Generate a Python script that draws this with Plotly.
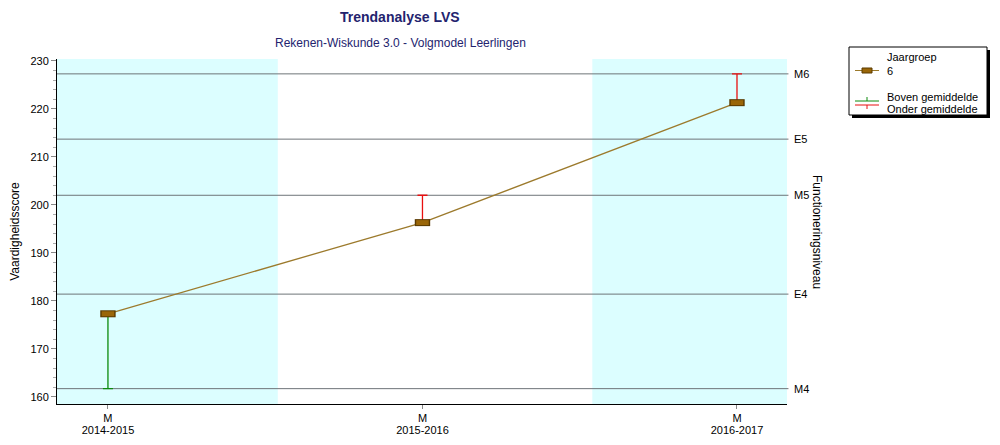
import plotly.graph_objects as go

# ---- data ----
years = ["2014-2015", "2015-2016", "2016-2017"]
period_labels = ["M", "M", "M"]
scores = [177.3, 196.3, 221.3]
err_up = [0.0, 5.7, 6.0]      # Onder gemiddelde (red)
err_down = [15.6, 0.0, 0.0]   # Boven gemiddelde (green)
level_names = ["M4", "E4", "M5", "E5", "M6"]
level_values = [161.7, 181.4, 202.0, 213.7, 227.3]
y_ticks = [160, 170, 180, 190, 200, 210, 220, 230]

W, H = 1000, 445
L, R, T, B = 57, 787, 59, 404
FONT = "Liberation Sans, Arial, sans-serif"
NAVY = "#23236e"
LINE_C = "#9c7a2c"
MARK_C = "#9a6608"
MARK_EDGE = "#5a3a00"
GREEN = "#0c8a0c"
RED = "#e81010"
XR = [-0.162, 2.159]
YR = [158.5, 230.4]

def px(x):
    return (x - L) / (R - L)

def py(y):
    return (B - y) / (B - T)

xs = list(range(len(years)))
fig = go.Figure()

# error bars (only where present)
dn = [i for i, e in enumerate(err_down) if e > 0]
up = [i for i, e in enumerate(err_up) if e > 0]
fig.add_trace(go.Scatter(
    x=[xs[i] for i in dn], y=[scores[i] for i in dn], mode="markers",
    marker=dict(size=1, color="rgba(0,0,0,0)"),
    error_y=dict(type="data", symmetric=False, array=[0]*len(dn),
                 arrayminus=[err_down[i] for i in dn],
                 color=GREEN, thickness=1.3, width=5),
    showlegend=False, hoverinfo="skip"))
fig.add_trace(go.Scatter(
    x=[xs[i] for i in up], y=[scores[i] for i in up], mode="markers",
    marker=dict(size=1, color="rgba(0,0,0,0)"),
    error_y=dict(type="data", symmetric=False, array=[err_up[i] for i in up],
                 arrayminus=[0]*len(up),
                 color=RED, thickness=1.3, width=5),
    showlegend=False, hoverinfo="skip"))
# main line
fig.add_trace(go.Scatter(
    x=xs, y=scores, mode="lines",
    line=dict(color=LINE_C, width=1.3),
    showlegend=False))
# rectangular markers (outline + fill)
fig.add_trace(go.Scatter(
    x=xs, y=scores, mode="markers",
    marker=dict(symbol="line-ew", size=11, line=dict(color=MARK_EDGE, width=7)),
    showlegend=False, hoverinfo="skip"))
fig.add_trace(go.Scatter(
    x=xs, y=scores, mode="markers",
    marker=dict(symbol="line-ew", size=9, line=dict(color=MARK_C, width=5)),
    showlegend=False))
# dummy traces for secondary axes
fig.add_trace(go.Scatter(x=[0], y=[scores[0]], yaxis="y2", mode="markers",
                         marker=dict(size=1, color="rgba(0,0,0,0)"),
                         showlegend=False, hoverinfo="skip"))
fig.add_trace(go.Scatter(x=[0], y=[scores[0]], xaxis="x2", mode="markers",
                         marker=dict(size=1, color="rgba(0,0,0,0)"),
                         showlegend=False, hoverinfo="skip"))

shapes = []
# shaded bands
for x0, x1 in [(-1, 0.54), (1.54, 3)]:
    shapes.append(dict(type="rect", xref="x", yref="paper", x0=x0, x1=x1, y0=0, y1=1,
                       fillcolor="#dcfeff", line=dict(width=0), layer="below"))
# level lines
for v in level_values:
    shapes.append(dict(type="line", xref="paper", yref="y", x0=0, x1=1.002, y0=v, y1=v,
                       line=dict(color="#6e7478", width=1), layer="below"))

# legend box
lx0, lx1, ly0, ly1 = 849, 987, 47, 115
shapes.append(dict(type="rect", xref="paper", yref="paper",
                   x0=px(lx0 + 3), x1=px(lx1 + 3), y0=py(ly1 + 3), y1=py(ly0 + 3),
                   fillcolor="black", line=dict(width=0)))
shapes.append(dict(type="rect", xref="paper", yref="paper",
                   x0=px(lx0), x1=px(lx1), y0=py(ly1), y1=py(ly0),
                   fillcolor="white", line=dict(color="black", width=1)))
# legend samples
shapes.append(dict(type="line", xref="paper", yref="paper", x0=px(855), x1=px(879),
                   y0=py(70.5), y1=py(70.5), line=dict(color=LINE_C, width=1)))
shapes.append(dict(type="rect", xref="paper", yref="paper", x0=px(862), x1=px(872),
                   y0=py(73), y1=py(68), fillcolor=MARK_C, line=dict(color=MARK_EDGE, width=1)))
shapes.append(dict(type="line", xref="paper", yref="paper", x0=px(855), x1=px(879),
                   y0=py(101), y1=py(101), line=dict(color=GREEN, width=1)))
shapes.append(dict(type="line", xref="paper", yref="paper", x0=px(867), x1=px(867),
                   y0=py(101), y1=py(97), line=dict(color=GREEN, width=1)))
shapes.append(dict(type="line", xref="paper", yref="paper", x0=px(855), x1=px(879),
                   y0=py(105), y1=py(105), line=dict(color=RED, width=1)))
shapes.append(dict(type="line", xref="paper", yref="paper", x0=px(867), x1=px(867),
                   y0=py(105), y1=py(109), line=dict(color=RED, width=1)))

def txt(t, x, y, **kw):
    d = dict(text=t, xref="paper", yref="paper", x=px(x), y=py(y), showarrow=False,
             xanchor="center", yanchor="middle",
             font=dict(family=FONT, size=kw.pop("size", 11), color=kw.pop("color", "black")))
    d.update(kw)
    return d

annotations = [
    txt("<b>Trendanalyse LVS</b>", 400, 17, size=14, color=NAVY),
    txt("Rekenen-Wiskunde 3.0 - Volgmodel Leerlingen", 400, 43, size=12, color=NAVY),
    txt("Functioneringsniveau", 817, 232, size=12, textangle=90),
    txt("Jaargroep", 885, 57, xanchor="left"),
    txt("6", 885, 70.5, xanchor="left"),
    txt("Boven gemiddelde", 885, 96.5, xanchor="left"),
    txt("Onder gemiddelde", 885, 109, xanchor="left"),
]

fig.update_layout(
    width=W, height=H,
    margin=dict(l=L, r=W - R, t=T, b=H - B, pad=0, autoexpand=False),
    plot_bgcolor="white", paper_bgcolor="white",
    font=dict(family=FONT, size=11, color="black"),
    shapes=shapes, annotations=annotations,
    xaxis=dict(range=XR, tickvals=xs, automargin=False, ticktext=period_labels,
               showgrid=False, zeroline=False, showline=True, linecolor="black",
               ticks="outside", ticklen=4, tickcolor="#888", ticklabelstandoff=0),
    xaxis2=dict(range=XR, tickvals=xs, ticktext=years, overlaying="x", side="bottom",
                automargin=False, showgrid=False, zeroline=False, showline=False,
                ticks="", ticklabelstandoff=18),
    yaxis=dict(range=YR, tickvals=y_ticks, showgrid=False, zeroline=False,
               automargin=False,
               showline=True, linecolor="black", ticks="outside", ticklen=5,
               tickcolor="#888",
               minor=dict(dtick=2, ticks="outside", ticklen=3, tickcolor="#aaa"),
               title=dict(text="Vaardigheidsscore", font=dict(size=12), standoff=8)),
    yaxis2=dict(range=YR, overlaying="y", side="right", automargin=False,
                tickvals=level_values, ticktext=level_names, showgrid=False,
                zeroline=False, showline=False, ticks="", ticklabelstandoff=6),
    showlegend=False,
)

fig.write_html("out.html", config={"displayModeBar": False},
               post_script="document.body.style.margin='0';document.body.style.padding='0';")
